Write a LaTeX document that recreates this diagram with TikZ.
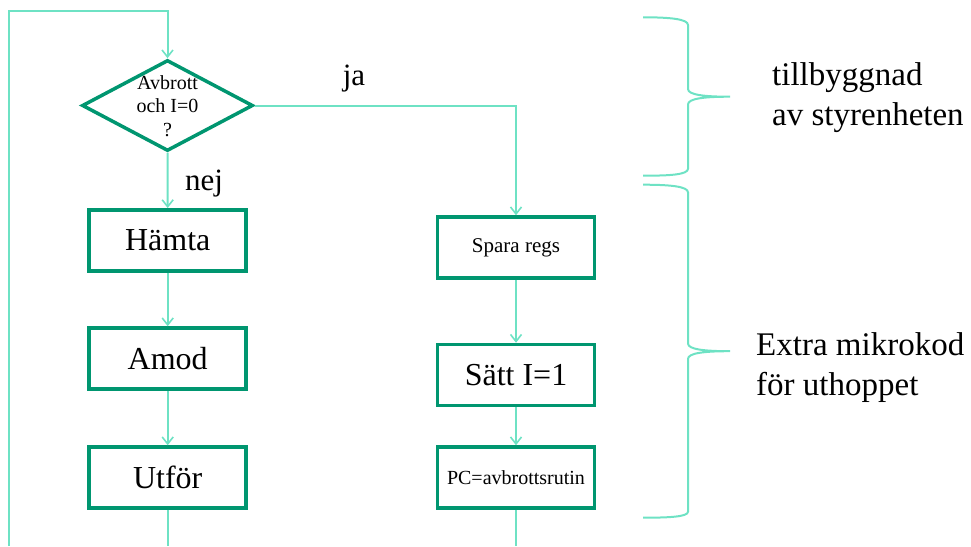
\documentclass[tikz,border=0pt]{standalone}
\usepackage{fontspec}
\setmainfont{Liberation Serif}
\usetikzlibrary{shapes.geometric,arrows.meta}
\definecolor{boxgreen}{RGB}{0,150,112}
\definecolor{flowteal}{RGB}{110,226,196}
\begin{document}
\begin{tikzpicture}[x=1pt,y=-1pt,
  stepbox/.style={draw=boxgreen,line width=3.5pt,minimum width=157pt,minimum height=61pt,
    inner sep=0pt,fill=white,font=\fontsize{32}{32}\selectfont},
  smalltext/.style={font=\fontsize{21}{21}\selectfont},
  decision/.style={diamond,draw=boxgreen,line width=3.5pt,minimum width=171pt,minimum height=91pt,
    inner sep=0pt,fill=white},
  flow/.style={draw=flowteal,line width=2pt},
  arr/.style={flow,-{Straight Barb[length=7pt,width=11pt,line width=1.6pt]}},
  brace/.style={draw=flowteal,line width=2pt},
  answer/.style={anchor=base,inner sep=0pt,font=\fontsize{31}{31}\selectfont},
  note/.style={anchor=base west,inner sep=0pt,font=\fontsize{33}{40}\selectfont}]
\useasboundingbox (0,0) rectangle (971,546);

% decision and process steps
\node[decision] (q) at (167.5,105.5) {};
\node[align=center,inner sep=0pt,font=\fontsize{20}{23.5}\selectfont] (qtext) at (167.5,106) {Avbrott\\och I=0\\?};
\node[stepbox] (hamta) at (167.7,240.3) {Hämta};
\node[stepbox] (amod) at (167.7,358.5) {Amod};
\node[stepbox] (utfor) at (167.7,477.5) {Utför};
\node[stepbox,smalltext] (spara) at (516,247.5) {Spara regs};
\node[stepbox] (satt) at (516,375) {Sätt I=1};
\node[stepbox,font=\fontsize{20}{20}\selectfont] (pc) at (516,477.5) {PC=avbrottsrutin};

% loop-back and tails
\coordinate (loopbottom) at (9.3,546);
\coordinate (looptop) at (9.3,10.7);
\coordinate (utail) at (167.7,546);
\coordinate (pctail) at (516,546);

\draw[arr] (loopbottom) -- (looptop) -| (q.north);
\draw[arr] (q.south) -- (hamta.north);
\draw[arr] (hamta.south) -- (amod.north);
\draw[arr] (amod.south) -- (utfor.north);
\draw[flow] (utfor.south) -- (utail);
\draw[arr] (q.east) -| (spara.north);
\draw[arr] (spara.south) -- (satt.north);
\draw[arr] (satt.south) -- (pc.north);
\draw[flow] (pc.south) -- (pctail);

\node[answer] (ja) at (354,85) {ja};
\node[answer] (nej) at (204,190) {nej};

% braces
\draw[brace] (643,17.3) .. controls (670,17.3) and (688,19) .. (688,25) -- (688,89)
  .. controls (688,95) and (705,96.7) .. (730,96.7)
  .. controls (705,96.7) and (688,98.4) .. (688,104.4) -- (688,168.7)
  .. controls (688,174.7) and (670,175.7) .. (643,175.7);
\draw[brace] (643,184.7) .. controls (670,184.7) and (688,186.4) .. (688,192.4) -- (688,343.5)
  .. controls (688,349.5) and (705,351.2) .. (730,351.2)
  .. controls (705,351.2) and (688,352.9) .. (688,358.9) -- (688,511.7)
  .. controls (688,516.7) and (670,517.7) .. (643,517.7);

\node[note] (t1) at (772,85) {tillbyggnad};
\node[note] (t2) at (772,125) {av styrenheten};
\node[note] (t3) at (756,355) {Extra mikrokod};
\node[note] (t4) at (756,395) {för uthoppet};
\end{tikzpicture}
\end{document}
